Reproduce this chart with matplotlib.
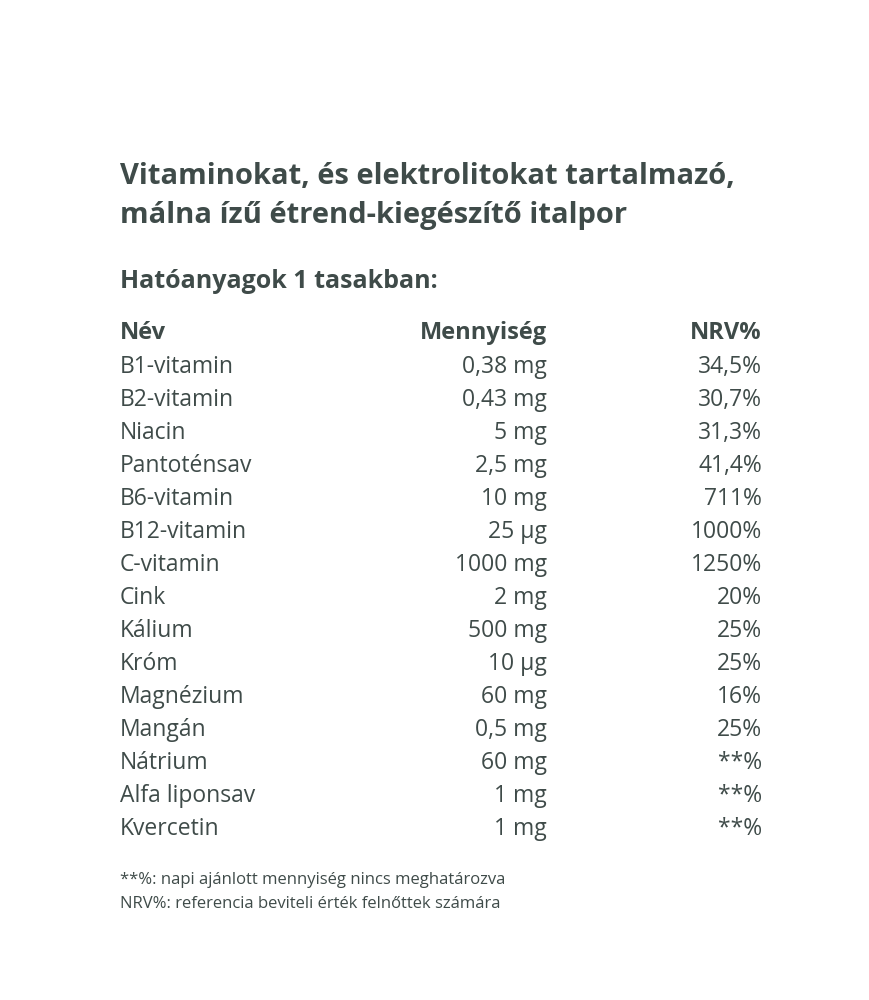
import matplotlib
matplotlib.use("Agg")
import matplotlib.pyplot as plt

title = ["Vitaminokat, és elektrolitokat tartalmazó,", "málna ízű étrend-kiegészítő italpor"]
subtitle = "Hatóanyagok 1 tasakban:"
headers = ["Név", "Mennyiség", "NRV%"]
names = ["B1-vitamin", "B2-vitamin", "Niacin", "Pantoténsav", "B6-vitamin", "B12-vitamin",
         "C-vitamin", "Cink", "Kálium", "Króm", "Magnézium", "Mangán", "Nátrium",
         "Alfa liponsav", "Kvercetin"]
amounts = ["0,38 mg", "0,43 mg", "5 mg", "2,5 mg", "10 mg", "25 µg", "1000 mg", "2 mg",
           "500 mg", "10 µg", "60 mg", "0,5 mg", "60 mg", "1 mg", "1 mg"]
nrv = ["34,5%", "30,7%", "31,3%", "41,4%", "711%", "1000%", "1250%", "20%", "25%", "25%",
       "16%", "25%", "**%", "**%", "**%"]
notes = ["**%: napi ajánlott mennyiség nincs meghatározva",
         "NRV%: referencia beviteli érték felnőttek számára"]

plt.rcParams['font.family'] = ['Open Sans', 'DejaVu Sans']
C = "#3f4b49"
fig = plt.figure(figsize=(8.7, 10), dpi=100)
fig.patch.set_facecolor("white")

def t(x, y, s, **kw):
    fig.text(x / 870, 1 - y / 1000, s, color=C, va="center", **kw)

t(120, 177, title[0], fontsize=21, fontweight="bold")
t(120, 215, title[1], fontsize=21, fontweight="bold")
t(120, 281, subtitle, fontsize=18, fontweight="bold")
t(120, 333, headers[0], fontsize=17, fontweight="bold")
t(547, 333, headers[1], fontsize=17, fontweight="bold", ha="right")
t(762, 333, headers[2], fontsize=17, fontweight="bold", ha="right")
for i, (n, a, r) in enumerate(zip(names, amounts, nrv)):
    y = 367 + i * 33
    t(120, y, n, fontsize=16.5)
    t(547, y, a, fontsize=16.5, ha="right")
    t(762, y, r, fontsize=16.5, ha="right")
t(120, 880, notes[0], fontsize=12)
t(120, 904, notes[1], fontsize=12)

fig.savefig("out.png", dpi=100, facecolor="white")
